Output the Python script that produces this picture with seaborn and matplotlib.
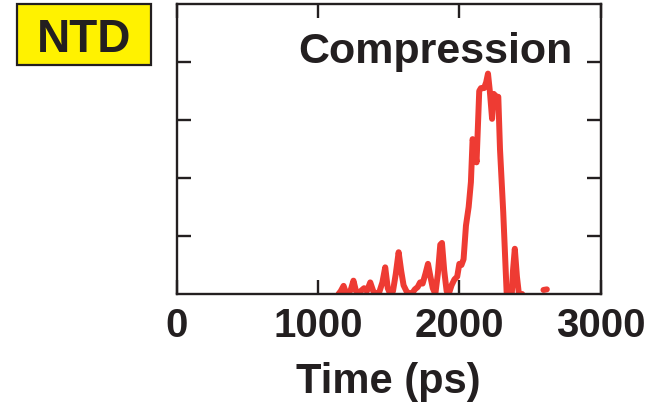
import numpy as np
import pandas as pd
import matplotlib
matplotlib.use("Agg")
import matplotlib.pyplot as plt
import seaborn as sns
from matplotlib.patches import Rectangle

# Data
time_main = [1144, 1160, 1180, 1197, 1215, 1232, 1250, 1268, 1288, 1306, 1325, 1345,
             1369, 1390, 1410, 1430, 1455, 1475, 1493, 1510, 1530, 1550, 1570, 1588,
             1605, 1625, 1645, 1665, 1685, 1705, 1722, 1740, 1760, 1778, 1795, 1812,
             1830, 1848, 1865, 1877, 1893, 1910, 1925, 1945, 1965, 1985, 2000, 2015,
             2030, 2047, 2066, 2082, 2094, 2106, 2122, 2141, 2153, 2175, 2190, 2203,
             2216, 2232, 2244, 2262, 2276, 2288, 2311, 2335, 2355, 2372, 2380, 2393,
             2408, 2422, 2445]
signal_main = [0.00, 0.05, 0.14, 0.02, 0.00, 0.08, 0.23, 0.05, 0.02, 0.06, 0.10, 0.05,
               0.20, 0.05, 0.00, 0.01, 0.20, 0.46, 0.10, 0.00, 0.05, 0.35, 0.72, 0.40,
               0.15, 0.05, 0.00, 0.01, 0.08, 0.12, 0.20, 0.18, 0.35, 0.52, 0.30, 0.10,
               0.00, 0.35, 0.85, 0.88, 0.40, 0.05, 0.00, 0.15, 0.25, 0.30, 0.52, 0.50,
               0.60, 1.18, 1.50, 1.93, 2.67, 2.55, 2.27, 3.50, 3.55, 3.55, 3.65, 3.80,
               3.50, 3.02, 3.45, 3.40, 3.40, 2.50, 1.41, 0.03, 0.00, 0.01, 0.40, 0.78,
               0.30, 0.00, 0.00]
time_tail = [2596, 2620]
signal_tail = [0.07, 0.08]

x_ticks = [0, 1000, 2000, 3000]
x_ticklabels = ["0", "1000", "2000", "3000"]
y_ticks = [1, 2, 3, 4]

df = pd.DataFrame({
    "time": time_main + time_tail,
    "signal": signal_main + signal_tail,
    "seg": [0] * len(time_main) + [1] * len(time_tail),
})

sns.set_theme(style="white")
plt.rcParams["font.family"] = ["Liberation Sans", "DejaVu Sans"]
plt.rcParams["font.weight"] = "bold"

fig = plt.figure(figsize=(6.48, 4.10), dpi=100)
ax = fig.add_axes([177 / 648, 1 - 295 / 410, 423.5 / 648, 290 / 410])

red = "#EE3B33"
sns.lineplot(data=df, x="time", y="signal", units="seg", estimator=None,
             color=red, linewidth=4.3, ax=ax, legend=False)

ax.set_xlim(0, 3000)
ax.set_ylim(0, 5)
ax.set_xticks(x_ticks)
ax.set_xticklabels(x_ticklabels)
ax.set_yticks(y_ticks)
ax.set_yticklabels([])
ax.tick_params(axis="both", direction="in", length=10, width=1.7, color="#231f20",
               top=True, right=True, bottom=True, left=True)
ax.tick_params(axis="x", labelsize=29, pad=9, labelcolor="#231f20")
for lbl in ax.get_xticklabels():
    lbl.set_fontweight("bold")
for s in ax.spines.values():
    s.set_linewidth(1.7)
    s.set_color("#231f20")
    s.set_visible(True)

ax.set_xlabel("Time (ps)", fontsize=30, fontweight="bold", color="#231f20", labelpad=12)
ax.set_ylabel("")

ax.text(0.934, 0.80, "Compression", transform=ax.transAxes, ha="right", va="baseline",
        fontsize=31, fontweight="bold", color="#231f20")

# NTD label box
fig.patches.append(Rectangle((17 / 648, 1 - 66 / 410), 134 / 648, 61 / 410,
                             transform=fig.transFigure, facecolor="#FFF200",
                             edgecolor="#231f20", linewidth=1.6, zorder=1))
fig.text(84 / 648, 1 - 52 / 410, "NTD", ha="center", va="baseline", fontsize=33,
         fontweight="bold", color="#231f20", zorder=2)

fig.savefig("out.png", dpi=100)
